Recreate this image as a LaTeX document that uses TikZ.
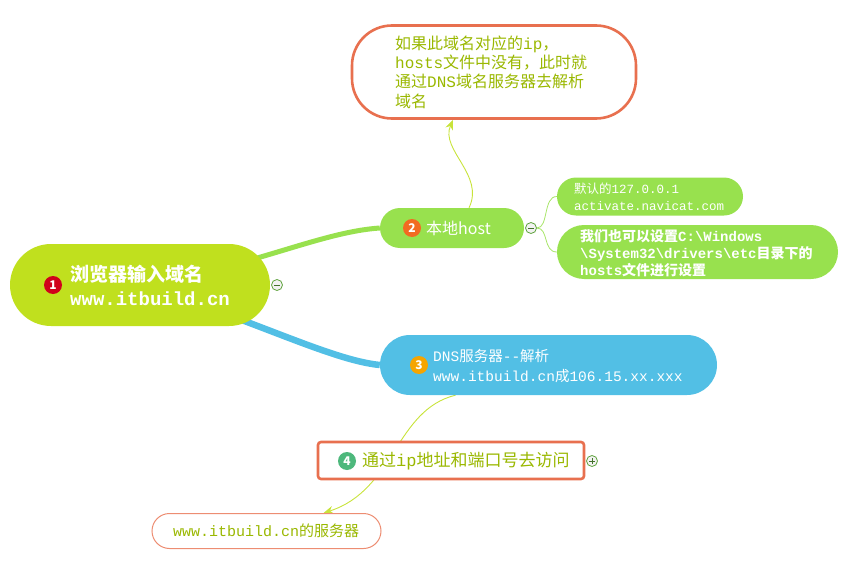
\documentclass[tikz,border=0pt]{standalone}
\usepackage{fontspec}
\setmainfont{Liberation Mono}
\newfontfamily\cjk{Noto Sans CJK SC}
\usepackage{tikz}
\usetikzlibrary{shapes,arrows,arrows.meta,calc,positioning,backgrounds}
\newcommand{\zh}[1]{{\cjk #1}}
\definecolor{rootlime}{HTML}{C0E01E}
\definecolor{hostgreen}{HTML}{98E14E}
\definecolor{dnsblue}{HTML}{52BFE5}
\definecolor{noteorange}{HTML}{E8704F}
\definecolor{notetext}{HTML}{9AB800}
\definecolor{linkyellow}{HTML}{C8E33A}
\definecolor{foldgreen}{HTML}{5FA33E}
\definecolor{badgered}{HTML}{D0021B}
\definecolor{badgeorange}{HTML}{F26B21}
\definecolor{badgeyellow}{HTML}{F5A500}
\definecolor{badgegreen}{HTML}{4DB87C}
\tikzstyle{lbl} = [anchor=west, align=left, inner sep=0pt]
\tikzstyle{badge} = [circle, inner sep=0pt, minimum size=18pt, text=white, font=\cjk\bfseries\fontsize{12}{12}\selectfont]
\tikzstyle{foldbtn} = [circle, draw=foldgreen, fill=gray!10, line width=0.8pt, minimum size=11pt, inner sep=0pt]
\tikzstyle{foldminus} = [path picture={\draw[foldgreen!70!black, line width=1pt] ([xshift=-3pt]path picture bounding box.center) -- ([xshift=3pt]path picture bounding box.center);}]
\tikzstyle{foldplus} = [path picture={\draw[foldgreen!70!black, line width=1pt] ([xshift=-3pt]path picture bounding box.center) -- ([xshift=3pt]path picture bounding box.center) ([yshift=-3pt]path picture bounding box.center) -- ([yshift=3pt]path picture bounding box.center);}]
\tikzstyle{arrow} = [-{Stealth[length=10pt,width=8pt]}, linkyellow, line width=0.9pt]
\tikzstyle{twig} = [hostgreen!85!white, line width=0.8pt]

\begin{document}
\begin{tikzpicture}[x=1pt,y=-1pt]
\useasboundingbox (0,0) rectangle (855,562);

% note above
\node[draw=noteorange, line width=2.6, fill=white, rounded corners=40, minimum width=284, minimum height=93] (note) at (494,72) {};
\node[lbl, text=notetext, font=\fontsize{16}{19.4}\selectfont] (notelbl) at (395,72)
  {\zh{如果此域名对应的}ip\zh{，}\\hosts\zh{文件中没有，此时就}\\\zh{通过}DNS\zh{域名服务器去解析}\\\zh{域名}};

% central topic
\node[fill=rootlime, rounded corners=41, minimum width=260, minimum height=82] (root) at (140,285) {};
\node[badge, fill=badgered] (b1) at (53,285) {1};
\node[lbl, text=white, font=\bfseries\fontsize{19}{24}\selectfont] (rootlbl) at (70,285) {\zh{浏览器输入域名}\\www.itbuild.cn};
\node[foldbtn, foldminus] (rootfold) at (277,285) {};

% local host
\node[fill=hostgreen, rounded corners=20, minimum width=144, minimum height=40] (host) at (452,228) {};
\node[badge, fill=badgeorange] (b2) at (412,228) {2};
\node[lbl, text=white, font=\cjk\fontsize{16}{19}\selectfont] (hostlbl) at (426,228) {本地host};
\node[foldbtn, foldminus] (hostfold) at (531,228) {};

\node[fill=hostgreen, rounded corners=19, minimum width=186, minimum height=38] (dflt) at (650,196.5) {};
\node[lbl, text=white, font=\fontsize{12.5}{17}\selectfont] (dfltlbl) at (574,196.5) {\zh{默认的}127.0.0.1\\activate.navicat.com};
\node[fill=hostgreen, rounded corners=27, minimum width=281, minimum height=54] (hosts) at (697.5,252) {};
\node[lbl, text=white, font=\bfseries\fontsize{14}{16.8}\selectfont] (hostslbl) at (580,253)
  {\zh{我们也可以设置}C:\textbackslash Windows\\\textbackslash System32\textbackslash drivers\textbackslash etc\zh{目录下的}\\hosts\zh{文件进行设置}};

% dns
\node[fill=dnsblue, rounded corners=30, minimum width=337, minimum height=60] (dns) at (548.5,365) {};
\node[badge, fill=badgeyellow] (b3) at (419,365) {3};
\node[lbl, text=white, font=\fontsize{14.5}{20}\selectfont] (dnslbl) at (433,366) {DNS\zh{服务器}-{}-\zh{解析}\\www.itbuild.cn\zh{成}106.15.xx.xxx};

% visit
\node[draw=noteorange, line width=2.6, rounded corners=3, fill=white, minimum width=266, minimum height=37] (visit) at (451,460.5) {};
\node[badge, fill=badgegreen] (b4) at (347,461) {4};
\node[lbl, text=notetext, font=\fontsize{17}{20}\selectfont] (visitlbl) at (362,461) {\zh{通过}ip\zh{地址和端口号去访问}};
\node[foldbtn, foldplus] (visitfold) at (592,461) {};

% server
\node[draw=noteorange!80, line width=1, fill=white, rounded corners=17.5, minimum width=229, minimum height=35] (server) at (266.5,531) {};
\node[lbl, text=notetext, font=\fontsize{15}{18}\selectfont] (serverlbl) at (173,531) {www.itbuild.cn\zh{的服务器}};

\begin{pgfonlayer}{background}
\draw[hostgreen, line width=5] (root.center) .. controls (250,268) and (320,232) .. (host.west);
\draw[dnsblue, line width=6.5] (root.center) .. controls (250,318) and (330,360) .. (dns.west);
\draw[twig] (hostfold.east) .. controls +(12,0) and +(-14,0) .. (dflt.west);
\draw[twig] (hostfold.east) .. controls +(12,0) and +(-14,0) .. (hosts.west);
\draw[arrow] ([xshift=17]host.north) .. controls (485,175) and (440,150) .. ([xshift=-41]note.south);
\draw[arrow] ([xshift=-93]dns.south) .. controls (395,410) and (395,490) .. ([xshift=57]server.north);
\end{pgfonlayer}
\end{tikzpicture}
\end{document}
